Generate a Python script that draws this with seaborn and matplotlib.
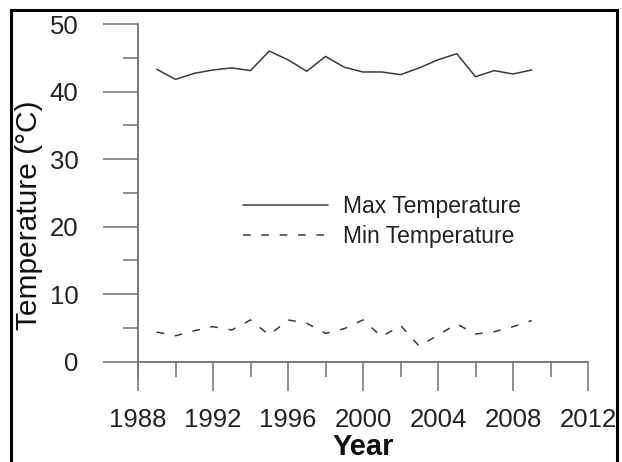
import matplotlib
matplotlib.use("Agg")
import matplotlib.pyplot as plt
from matplotlib.ticker import MultipleLocator
from matplotlib.patches import Rectangle
import seaborn as sns
import pandas as pd

years = list(range(1989, 2010))
max_temp = [43.3, 41.8, 42.7, 43.2, 43.5, 43.1, 46.0, 44.7, 43.0, 45.2, 43.6,
            42.9, 42.9, 42.5, 43.5, 44.7, 45.6, 42.2, 43.1, 42.6, 43.2]
min_temp = [4.4, 3.85, 4.6, 5.2, 4.7, 6.2, 3.95, 6.2, 5.7, 4.2, 4.9,
            6.2, 3.7, 5.4, 2.3, 3.95, 5.6, 4.1, 4.45, 5.2, 6.1]
series_names = ["Max Temperature", "Min Temperature"]
x_ticks = [1988, 1992, 1996, 2000, 2004, 2008, 2012]
y_ticks = [0, 10, 20, 30, 40, 50]

df = pd.DataFrame({
    "Year": years * 2,
    "Temp": max_temp + min_temp,
    "Series": [series_names[0]] * len(years) + [series_names[1]] * len(years),
})

sns.set_theme(style="white")
plt.rcParams["font.family"] = ["Liberation Sans", "DejaVu Sans"]

fig = plt.figure(figsize=(6.22, 4.62), dpi=100)
ax = fig.add_axes([138 / 622, 84 / 462, 450 / 622, 354 / 462])

sns.lineplot(data=df, x="Year", y="Temp", style="Series", ax=ax,
             color="#3a3a3a", linewidth=1.1,
             dashes={series_names[0]: "", series_names[1]: (5, 7)},
             legend=True)

ax.set_xlim(1988, 2012)
ax.set_ylim(-2.4, 50)
ax.set_xticks(x_ticks)
ax.set_yticks(y_ticks)
ax.xaxis.set_minor_locator(MultipleLocator(2))
ax.yaxis.set_minor_locator(MultipleLocator(5))

for s in ["top", "right"]:
    ax.spines[s].set_visible(False)
ax.spines["bottom"].set_position(("data", 0))
for s in ["left", "bottom"]:
    ax.spines[s].set_color("#7a7a7a")
    ax.spines[s].set_linewidth(1.4)

ax.tick_params(axis="y", which="major", direction="out", length=25, width=1.2,
               color="#7a7a7a", labelsize=18.5, pad=18, labelcolor="#222222", left=True)
ax.tick_params(axis="y", which="minor", direction="out", length=11, width=1.2,
               color="#7a7a7a", left=True)
ax.tick_params(axis="x", which="major", direction="out", length=21, width=1.2,
               color="#7a7a7a", labelsize=18.5, pad=12, labelcolor="#222222", bottom=True)
ax.tick_params(axis="x", which="minor", direction="out", length=11, width=1.2,
               color="#7a7a7a", bottom=True)

ax.set_xlabel("Year", fontsize=21, fontweight="bold", color="#111111")
ax.xaxis.set_label_coords(0.5, -0.155)
ax.set_ylabel("Temperature (°C)", fontsize=21.5, color="#111111")
ax.yaxis.set_label_coords(-0.21, 0.46)

handles, labels = ax.get_legend_handles_labels()
leg = ax.legend(handles, labels, loc="upper left",
                bbox_to_anchor=(243 / 622, 1 - 195 / 462),
                bbox_transform=fig.transFigure, frameon=False,
                fontsize=16.5, handlelength=3.7, handletextpad=0.65,
                labelspacing=0.3, borderpad=0, borderaxespad=0)
for t in leg.get_texts():
    t.set_color("#222222")

fig.patches.append(Rectangle((11 / 622, -0.1), 606 / 622, 1.1 - 10 / 462,
                             transform=fig.transFigure, fill=False,
                             edgecolor="black", linewidth=2.2))

fig.savefig("out.png", dpi=100)
